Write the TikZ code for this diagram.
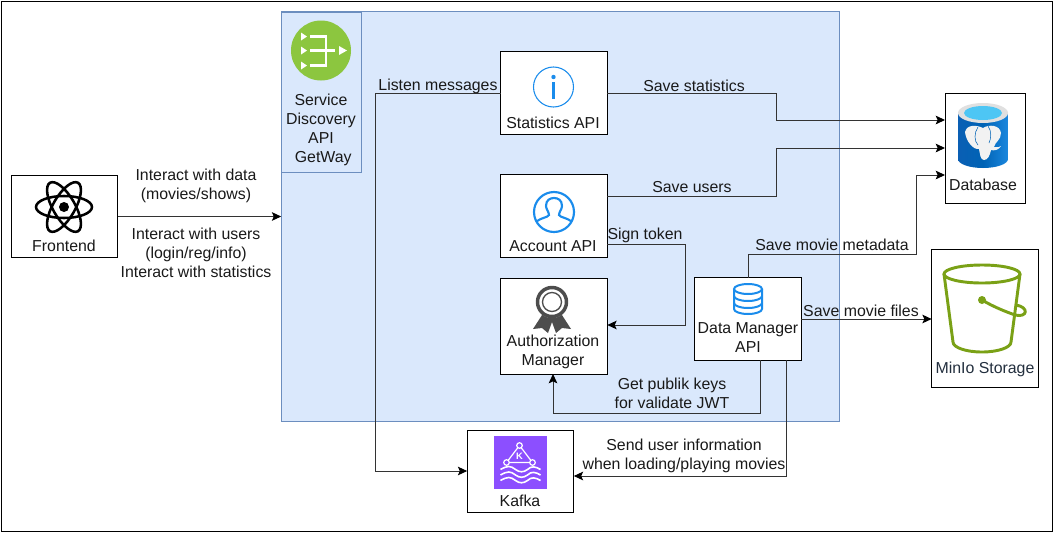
\documentclass[tikz,border=0pt]{standalone}
\usepackage{fontspec}
\setmainfont{Liberation Sans}
\usepackage{xcolor}
\usetikzlibrary{arrows.meta}
\definecolor{panelfill}{HTML}{DAE8FC}
\definecolor{paneldraw}{HTML}{6C8EBF}
\definecolor{iconblue}{HTML}{1A8CEC}
\definecolor{icongreen}{HTML}{8CC63F}
\definecolor{bucketgreen}{HTML}{7AA116}
\definecolor{kafkapurple}{HTML}{8C4FFF}
\definecolor{rosette}{HTML}{4D4D4D}
\definecolor{linegray}{HTML}{333333}
\definecolor{pgleft}{HTML}{0A5FB4}
\definecolor{pgmid}{HTML}{0063B5}
\definecolor{pgright}{HTML}{1B87DE}
\tikzset{
	box/.style={draw=black,fill=white,line width=0.75pt,outer sep=0pt,inner sep=0pt},
	txt/.style={align=center,inner sep=0pt,yshift=-0.75pt,font=\fontsize{11.9pt}{14.2pt}\selectfont,text=black!90},
	link/.style={draw=linegray,line width=0.75pt,-{Stealth[length=7pt,width=6.5pt,inset=1.5pt,black]}}
}
\begin{document}
\begin{tikzpicture}[x=0.75pt,y=-0.75pt]
	\useasboundingbox (0,0) rectangle (1054,533);
	\draw [line width=0.75pt] (1,1) rectangle (1052,531);
	% gateway panel
	\node (panel) [box,fill=panelfill,draw=paneldraw,minimum width=419pt,minimum height=307pt] at (560.5,216.5) {};
	\node (gateway) [box,fill=panelfill,draw=paneldraw,minimum width=60pt,minimum height=120pt] at (321,92) {};
	% boxes
	\node (frontend) [box,minimum width=80pt,minimum height=62pt] at (64.5,216.5) {};
	\node (stats) [box,minimum width=80pt,minimum height=62pt] at (554,93) {};
	\node (account) [box,minimum width=80pt,minimum height=62pt] at (554,216) {};
	\node (auth) [box,minimum width=80pt,minimum height=72pt] at (554,326) {};
	\node (data) [box,minimum width=80pt,minimum height=62pt] at (748,319) {};
	\node (database) [box,minimum width=60pt,minimum height=82.5pt] at (985,148) {};
	\node (minio) [box,minimum width=80pt,minimum height=103pt] at (985,318.5) {};
	\node (kafka) [box,minimum width=80pt,minimum height=62pt] at (520.5,471.5) {};
	% free ends of the connectors
	\coordinate (dbin1) at (database.west |- 0,120);
	\coordinate (dbin2) at (database.west |- 0,148);
	\coordinate (dbin3) at (database.west |- 0,175);
	\coordinate (accout) at (account.east |- 0,196);
	\coordinate (signout) at (account.east |- 0,244);
	\coordinate (dataleft) at (760,360);
	\coordinate (dataright) at (786,360);
	\coordinate (kafkain) at (kafka.east |- 0,476);
	% connectors
	\draw [link] (frontend.east) -- (panel.west |- frontend.east);
	\draw [link] (stats.west) -- (375,93) -- (375,471) -- (kafka.west |- 0,471);
	\draw [link] (stats.east) -- (776,93) -- (776,120) -- (dbin1);
	\draw [link] (accout) -- (776,196) -- (776,148) -- (dbin2);
	\draw [link] (data.north) -- (748,254) -- (916,254) -- (916,175) -- (dbin3);
	\draw [link] (signout) -- (685,244) -- (685,325) -- (auth.east |- 0,325);
	\draw [link] (data.east) -- (minio.west |- data.east);
	\draw [link] (dataleft) -- (760,413) -- (553,413) -- (auth.south -| 553,0);
	\draw [link] (dataright) -- (786,476) -- (kafkain);
	% box texts
	\node (frontendtxt) [txt] at (64,245) {Frontend};
	\node (gatewaytxt) [txt] at (321,129) {Service\\Discovery\\API\\\ GetWay};
	\node (statstxt) [txt] at (553,122) {Statistics API};
	\node (accounttxt) [txt] at (553,245) {Account API};
	\node (authtxt) [txt] at (553,351) {Authorization\\Manager};
	\node (datatxt) [txt] at (748,337) {Data Manager\\API};
	\node (databasetxt) [txt] at (983,184) {Database};
	\node (miniotxt) [txt,text={rgb,255:red,35;green,47;blue,62}] at (985,368) {MinIo Storage};
	\node (kafkatxt) [txt] at (520,500) {Kafka};
	% connector labels
	\node (lbldata) [txt] at (196,185) {Interact with data\\(movies/shows)};
	\node (lblusers) [txt] at (196,252) {Interact with users\\(login/reg/info)\\Interact with statistics};
	\node (lbllisten) [txt] at (438,85) {Listen messages};
	\node (lblstats) [txt] at (694,85) {Save statistics};
	\node (lblsaveusers) [txt] at (692,186) {Save users};
	\node (lblsign) [txt] at (645,234) {Sign token};
	\node (lblmeta) [txt] at (832,244) {Save movie metadata};
	\node (lblfiles) [txt] at (861,310) {Save movie files};
	\node (lblkeys) [txt] at (672,392) {Get publik keys\\for validate JWT};
	\node (lblsend) [txt] at (684,455) {Send user information\\when loading/playing movies};
	% atom icon
	\begin{scope}[shift={(64,207)}]
		\foreach \a in {0,60,120}
			\draw [line width=1.9pt,rotate=\a] (0,0) ellipse [x radius=28,y radius=11];
		\fill (0,0) circle (5);
	\end{scope}
	% green discovery icon
	\begin{scope}[shift={(321,50.5)}]
		\fill [icongreen] (0,0) circle (30);
		\draw [white,line width=1.6pt] (-11,-14) -- (5,-14) -- (5,15) -- (-11,15) (-11,0) -- (14,0);
		\fill [white] (-20,-18) -- (-14,-14) -- (-20,-10) -- cycle
			(-20,-4) -- (-14,0) -- (-20,4) -- cycle
			(-20,11) -- (-14,15) -- (-20,19) -- cycle
			(18,-4.5) -- (26,0) -- (18,4.5) -- cycle;
	\end{scope}
	% info icon
	\begin{scope}[shift={(553.5,87)}]
		\draw [iconblue,line width=0.8pt] (0,0) circle (20);
		\fill [iconblue] (0,-10) circle (2.2);
		\fill [iconblue] (-1.6,-5) rectangle (1.6,12);
	\end{scope}
	% user icon
	\begin{scope}[shift={(554,212)}]
		\draw [iconblue,line width=1.6pt] (0,0) circle (20);
		\draw [iconblue,line width=1.6pt] (-18,10) .. controls (-12,5) and (-7,6) .. (-5,3) .. controls (-5,0) and (-8,-3) .. (-8,-6) .. controls (-8,-12) and (-4,-14) .. (0,-14) .. controls (4,-14) and (8,-12) .. (8,-6) .. controls (8,-3) and (5,0) .. (5,3) .. controls (7,6) and (12,5) .. (18,10);
	\end{scope}
	% rosette icon
	\begin{scope}[shift={(552,302)}]
		\fill [rosette] (-8,10) -- (-19,27) -- (-10,26) -- (-4,31) -- (0,20) -- (4,31) -- (10,26) -- (19,27) -- (8,10) -- cycle;
		\fill [white] (0,0) circle (16);
		\draw [rosette,line width=2.6pt] (0,0) circle (14.5);
		\draw [rosette,line width=1pt] (0,0) circle (9.5);
	\end{scope}
	% small database icon
	\begin{scope}[shift={(748,299)}]
		\draw [iconblue,line width=1.5pt] (-14,-10) -- (-14,10) arc [start angle=180,end angle=0,x radius=14,y radius=5] -- (14,-10);
		\draw [iconblue,line width=1.5pt] (0,-10) ellipse [x radius=14,y radius=5];
		\draw [iconblue,line width=1.5pt] (-14,-3) arc [start angle=180,end angle=0,x radius=14,y radius=5];
		\draw [iconblue,line width=1.5pt] (-14,4) arc [start angle=180,end angle=0,x radius=14,y radius=5];
	\end{scope}
	% postgres cylinder
	\begin{scope}[shift={(983,135)}]
		\shade [left color=pgleft,right color=pgright,middle color=pgmid] (-25,-22) -- (-25,24) arc [start angle=180,end angle=0,x radius=25,y radius=9] -- (25,-22) -- cycle;
		\fill [black!12] (0,-22) ellipse [x radius=25,y radius=10];
		\fill [cyan!70] (0,-22) ellipse [x radius=19,y radius=7];
		\fill [black!5] (-18,-3) .. controls (-16,-11) and (-6,-10) .. (0,-7) .. controls (6,-11) and (17,-10) .. (18,-2) .. controls (18,5) and (12,7) .. (11,12) .. controls (14,13) and (17,12) .. (18,11) .. controls (16,15) and (11,16) .. (8,15) .. controls (7,20) and (5,25) .. (1,25) .. controls (-3,25) and (-3,18) .. (-4,14) .. controls (-10,15) and (-17,6) .. cycle;
		\draw [pgmid,line width=0.4pt] (-5,-8) .. controls (-9,-2) and (-9,6) .. (-5,10) (5,-9) .. controls (9,-4) and (8,4) .. (6,8);
	\end{scope}
	% bucket icon
	\begin{scope}[shift={(982,274)}]
		\draw [bucketgreen,line width=2.2pt] (0,0) ellipse [x radius=38,y radius=9];
		\draw [bucketgreen,line width=2.2pt] (-38,0) -- (-29,68) arc [start angle=180,end angle=0,x radius=29,y radius=10] -- (38,0);
		\fill [bucketgreen] (0,26) circle (4);
		\draw [bucketgreen,line width=2.2pt] (0,26) .. controls (12,33) and (22,37) .. (33,41) .. controls (46,44) and (47,33) .. (34,31);
	\end{scope}
	% kafka icon
	\begin{scope}[shift={(520.5,462.5)}]
		\fill [kafkapurple] (-26.5,-26.5) rectangle (26.5,26.5);
		\draw [white,line width=0.9pt] (-1,-17) -- (-14,0) -- (12,0) -- cycle;
		\draw [white,line width=0.9pt,fill=kafkapurple] (-1,-17) circle (2.8) (-14,0) circle (2.8) (12,0) circle (2.8);
		\node (kafkak) [text=white,inner sep=0pt,font=\fontsize{7pt}{7pt}\selectfont\bfseries] at (-1,-6.5) {K};
		\foreach \y in {7,12.5,18}
			\draw [white,line width=1.2pt] (-20,\y) .. controls (-13,\y-4) and (-10,\y-4) .. (-5,\y) .. controls (-1,\y+3) and (3,\y+3) .. (7,\y) .. controls (11,\y-4) and (15,\y-3) .. (20,\y);
	\end{scope}
\end{tikzpicture}
\end{document}
